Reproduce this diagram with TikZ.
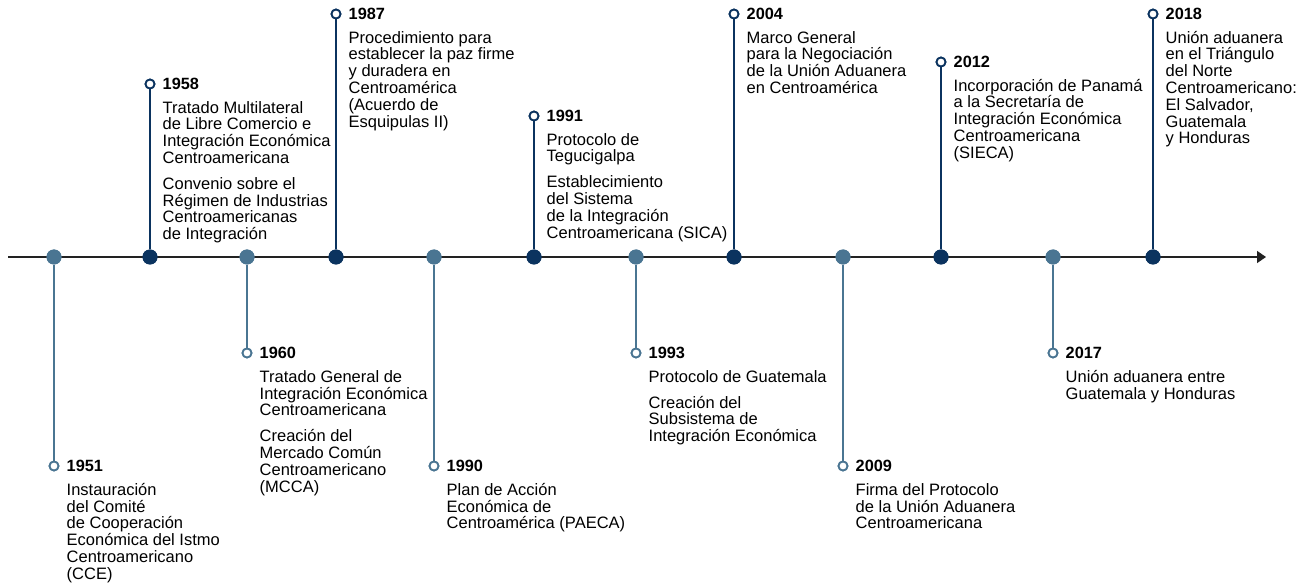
\documentclass[tikz,border=0pt]{standalone}
\usepackage{fontspec}
\setmainfont{Liberation Sans}
\usetikzlibrary{arrows.meta}
\definecolor{dk}{HTML}{0B335F}
\definecolor{lt}{HTML}{4A7592}
\definecolor{axc}{HTML}{222222}
\tikzset{
  yr/.style={anchor=west, inner sep=0pt, font=\fontsize{16.3}{16.8}\selectfont\bfseries, text=black},
  desc/.style={anchor=north west, inner sep=0pt, align=left, font=\fontsize{16.5}{16.8}\selectfont, text=black},
  bigdot/.style={circle, fill=#1, minimum size=15pt, inner sep=0pt},
  ring/.style={circle, draw=#1, fill=white, line width=1.8pt, minimum size=9pt, inner sep=0pt},
  stem/.style={draw=#1, line width=2pt},
  axisline/.style={draw=axc, line width=1.4pt, -{Triangle[length=9pt,width=12pt]}},
}
\newcommand{\tlev}[5]{%
  \node[bigdot=#4] (d#1) at (#2,257) {};
  \node[ring=#4] (r#1) at (#2,#3) {};
  \draw[stem=#4] (d#1) -- (r#1);
  \node[bigdot=#4] at (d#1) {};
  \node[ring=#4] at (r#1) {};
  \node[yr] (y#1) at (#2+12.5,#3) {#1};
  \node[desc] (t#1) at (#2+12.5,#3+16) {\rule{0pt}{13pt}#5};
}
\begin{document}
\begin{tikzpicture}[x=1pt,y=-1pt]
\useasboundingbox (0,0) rectangle (1309,585);
\coordinate (ax0) at (8,257);
\coordinate (ax1) at (1266,257);
\draw[axisline] (ax0) -- (ax1);
\tlev{1951}{54}{466}{lt}{Instauración\\del Comité\\de Cooperación\\Económica del Istmo\\Centroamericano\\(CCE)}
\tlev{1958}{150}{84}{dk}{Tratado Multilateral\\de Libre Comercio e\\Integración Económica\\Centroamericana\\[9pt]Convenio sobre el\\Régimen de Industrias\\Centroamericanas\\de Integración}
\tlev{1960}{247}{353}{lt}{Tratado General de\\Integración Económica\\Centroamericana\\[9pt]Creación del\\Mercado Común\\Centroamericano\\(MCCA)}
\tlev{1987}{336}{14}{dk}{Procedimiento para\\establecer la paz firme\\y duradera en\\Centroamérica\\(Acuerdo de\\Esquipulas II)}
\tlev{1990}{434}{466}{lt}{Plan de Acción\\Económica de\\Centroamérica (PAECA)}
\tlev{1991}{534}{116}{dk}{Protocolo de\\Tegucigalpa\\[9pt]Establecimiento\\del Sistema\\de la Integración\\Centroamericana (SICA)}
\tlev{1993}{636}{353}{lt}{Protocolo de Guatemala\\[9pt]Creación del\\Subsistema de\\Integración Económica}
\tlev{2004}{734}{14}{dk}{Marco General\\para la Negociación\\de la Unión Aduanera\\en Centroamérica}
\tlev{2009}{843}{466}{lt}{Firma del Protocolo\\de la Unión Aduanera\\Centroamericana}
\tlev{2012}{941}{62}{dk}{Incorporación de Panamá\\a la Secretaría de\\Integración Económica\\Centroamericana\\(SIECA)}
\tlev{2017}{1053}{353}{lt}{Unión aduanera entre\\Guatemala y Honduras}
\tlev{2018}{1153}{14}{dk}{Unión aduanera\\en el Triángulo\\del Norte\\Centroamericano:\\El Salvador,\\Guatemala\\y Honduras}
\end{tikzpicture}
\end{document}
